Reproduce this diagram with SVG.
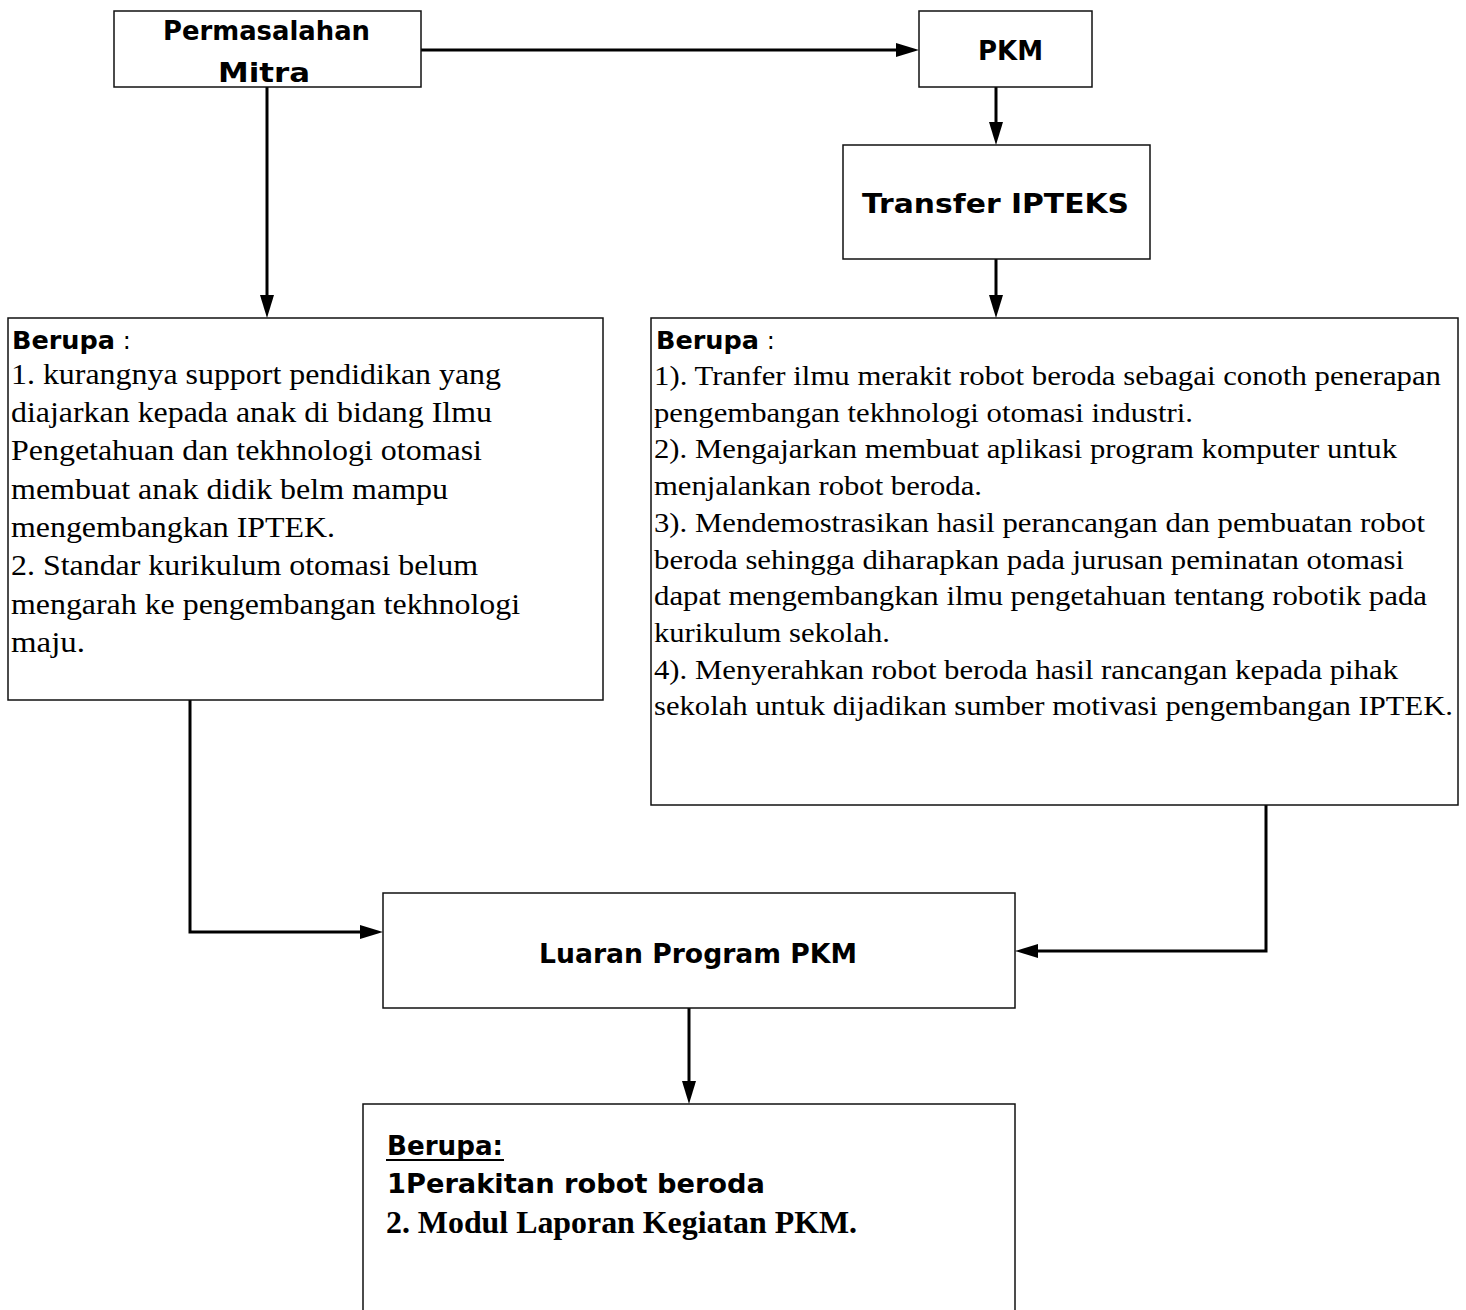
<svg xmlns="http://www.w3.org/2000/svg" width="1466" height="1310" viewBox="0 0 1466 1310">
<style>
.box{fill:#fff;stroke:#111;stroke-width:1.5}
.hd{font-family:"DejaVu Sans",sans-serif;font-weight:bold;fill:#000}
.tx{font-family:"Liberation Serif","Times New Roman",serif;font-size:29px;fill:#000}
.tr{font-family:"Liberation Serif","Times New Roman",serif;font-size:28px;fill:#000}
.tb{font-family:"Liberation Serif","Times New Roman",serif;font-size:32px;font-weight:bold;fill:#000}
.cn{fill:none;stroke:#000;stroke-width:3}
</style>
<defs>
<marker id="ah" markerUnits="userSpaceOnUse" markerWidth="24" markerHeight="16" refX="13" refY="7" orient="auto">
<path d="M0,0 L23,7 L0,14 z" fill="#000"/>
</marker>
</defs>
<rect width="1466" height="1310" fill="#fff"/>
<g id="connectors">
<path class="cn" d="M421,50 H909" marker-end="url(#ah)"/>
<path class="cn" d="M267,87 V308" marker-end="url(#ah)"/>
<path class="cn" d="M996,87 V135" marker-end="url(#ah)"/>
<path class="cn" d="M996,259 V308" marker-end="url(#ah)"/>
<path class="cn" d="M190,700 V932 H373" marker-end="url(#ah)"/>
<path class="cn" d="M1266,805 V951 H1025" marker-end="url(#ah)"/>
<path class="cn" d="M689,1008 V1094" marker-end="url(#ah)"/>
</g>
<g id="permasalahan">
<rect class="box" x="114" y="11" width="307" height="76"/>
<text class="hd" x="163" y="40" font-size="26" textLength="207" lengthAdjust="spacingAndGlyphs">Permasalahan</text>
<text class="hd" x="218" y="82" font-size="26" textLength="92" lengthAdjust="spacingAndGlyphs">Mitra</text>
</g>
<g id="pkm">
<rect class="box" x="919" y="11" width="173" height="76"/>
<text class="hd" x="978" y="60" font-size="27" textLength="65" lengthAdjust="spacingAndGlyphs">PKM</text>
</g>
<g id="transfer">
<rect class="box" x="843" y="145" width="307" height="114"/>
<text class="hd" x="862" y="213" font-size="27" textLength="267" lengthAdjust="spacingAndGlyphs">Transfer IPTEKS</text>
</g>
<g id="berupa-left">
<rect class="box" x="8" y="318" width="595" height="382"/>
<text class="hd" x="12" y="349" font-size="24"><tspan textLength="103" lengthAdjust="spacingAndGlyphs">Berupa</tspan><tspan font-weight="normal"> :</tspan></text>
<text class="tx" x="11" y="384" textLength="490" lengthAdjust="spacingAndGlyphs">1. kurangnya support pendidikan yang</text>
<text class="tx" x="11" y="422" textLength="481" lengthAdjust="spacingAndGlyphs">diajarkan kepada anak di bidang Ilmu</text>
<text class="tx" x="11" y="460" textLength="471" lengthAdjust="spacingAndGlyphs">Pengetahuan dan tekhnologi otomasi</text>
<text class="tx" x="11" y="499" textLength="437" lengthAdjust="spacingAndGlyphs">membuat anak didik belm mampu</text>
<text class="tx" x="11" y="537" textLength="324" lengthAdjust="spacingAndGlyphs">mengembangkan IPTEK.</text>
<text class="tx" x="11" y="575" textLength="467" lengthAdjust="spacingAndGlyphs">2. Standar kurikulum otomasi belum</text>
<text class="tx" x="11" y="614" textLength="509" lengthAdjust="spacingAndGlyphs">mengarah ke pengembangan tekhnologi</text>
<text class="tx" x="11" y="652" textLength="74" lengthAdjust="spacingAndGlyphs">maju.</text>
</g>
<g id="berupa-right">
<rect class="box" x="651" y="318" width="807" height="487"/>
<text class="hd" x="656" y="349" font-size="24"><tspan textLength="103" lengthAdjust="spacingAndGlyphs">Berupa</tspan><tspan font-weight="normal"> :</tspan></text>
<text class="tr" x="654" y="385" textLength="787" lengthAdjust="spacingAndGlyphs">1). Tranfer ilmu merakit robot beroda sebagai conoth penerapan</text>
<text class="tr" x="654" y="422" textLength="539" lengthAdjust="spacingAndGlyphs">pengembangan tekhnologi otomasi industri.</text>
<text class="tr" x="654" y="458" textLength="743" lengthAdjust="spacingAndGlyphs">2). Mengajarkan membuat aplikasi program komputer untuk</text>
<text class="tr" x="654" y="495" textLength="328" lengthAdjust="spacingAndGlyphs">menjalankan robot beroda.</text>
<text class="tr" x="654" y="532" textLength="771" lengthAdjust="spacingAndGlyphs">3). Mendemostrasikan hasil perancangan dan pembuatan robot</text>
<text class="tr" x="654" y="569" textLength="750" lengthAdjust="spacingAndGlyphs">beroda sehingga diharapkan pada jurusan peminatan otomasi</text>
<text class="tr" x="654" y="605" textLength="773" lengthAdjust="spacingAndGlyphs">dapat mengembangkan ilmu pengetahuan tentang robotik pada</text>
<text class="tr" x="654" y="642" textLength="236" lengthAdjust="spacingAndGlyphs">kurikulum sekolah.</text>
<text class="tr" x="654" y="679" textLength="744" lengthAdjust="spacingAndGlyphs">4). Menyerahkan robot beroda hasil rancangan kepada pihak</text>
<text class="tr" x="654" y="715" textLength="799" lengthAdjust="spacingAndGlyphs">sekolah untuk dijadikan sumber motivasi pengembangan IPTEK.</text>
</g>
<g id="luaran">
<rect class="box" x="383" y="893" width="632" height="115"/>
<text class="hd" x="539" y="963" font-size="26" textLength="318" lengthAdjust="spacingAndGlyphs">Luaran Program PKM</text>
</g>
<g id="berupa-bottom">
<rect class="box" x="363" y="1104" width="652" height="220"/>
<text class="hd" x="387" y="1155" font-size="26" textLength="116" lengthAdjust="spacingAndGlyphs">Berupa:</text>
<line x1="386" y1="1160" x2="504" y2="1160" stroke="#000" stroke-width="2"/>
<text class="hd" x="387" y="1193" font-size="26" textLength="378" lengthAdjust="spacingAndGlyphs">1Perakitan robot beroda</text>
<text class="tb" x="386" y="1233" textLength="471" lengthAdjust="spacingAndGlyphs">2. Modul Laporan Kegiatan PKM.</text>
</g>
</svg>
